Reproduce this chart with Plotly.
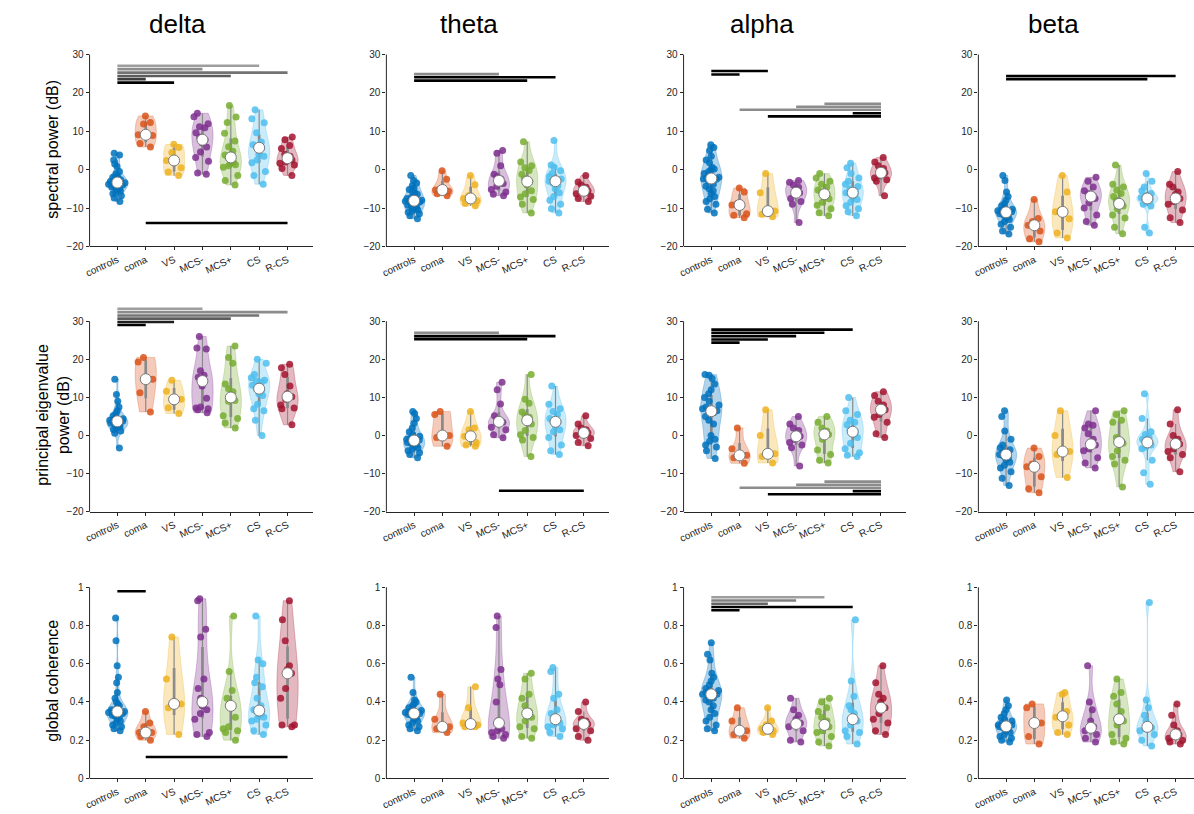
import numpy as np
import plotly.graph_objects as go

groups = ["controls", "coma", "VS", "MCS-", "MCS+", "CS", "R-CS"]
bands = ["delta", "theta", "alpha", "beta"]
measures = ["spectral power (dB)", "principal eigenvalue<br>power (dB)", "global coherence"]
colors = ["#0072BD", "#D95319", "#EDB120", "#7E2F8E", "#77AC30", "#4DBEEE", "#A2142F"]

# ---------------- spectral power (dB) ----------------
spec_delta = [
    [4.3, 3.8, 2.5, 1.5, 0.8, -0.5, -1.0, -1.5, -2.0, -2.3, -2.6, -2.9, -3.1, -3.3, -3.4, -3.6, -3.8, -4.0,
     -4.2, -4.4, -4.6, -4.9, -5.2, -5.5, -5.9, -6.3, -6.8, -7.4, -8.3, -3.0, -2.0, -4.5],
    [14.0, 12.3, 11.9, 9.1, 8.9, 6.8, 5.9],
    [6.6, 5.8, 4.5, 2.4, 0.5, -0.6, -1.5],
    [14.7, 13.8, 12.0, 11.2, 10.9, 9.6, 8.5, 7.8, 7.0, 5.9, 4.6, 3.2, 2.2, -0.9, -1.2],
    [16.7, 13.7, 12.3, 9.5, 7.5, 6.0, 4.8, 3.8, 3.2, 2.0, 1.6, 1.3, 1.0, 0.6, -1.5, -2.8, -4.0],
    [15.6, 13.3, 12.2, 9.6, 7.2, 6.5, 6.0, 5.7, 4.0, 3.5, 2.5, 1.8, -0.5, -1.5, -3.8],
    [8.5, 7.8, 6.3, 5.5, 4.0, 3.5, 3.0, 2.5, 2.0, 1.7, 1.2, 0.3, -1.5],
]
spec_theta = [
    [-1.5, -2.8, -3.5, -4.2, -4.8, -5.2, -5.6, -6.0, -6.4, -6.8, -7.2, -7.5, -7.8, -8.0, -8.1, -8.2, -8.4,
     -8.7, -9.0, -9.3, -9.6, -9.9, -10.2, -10.5, -10.8, -11.1, -11.5, -12.0, -12.8],
    [-0.3, -2.5, -5.0, -5.3, -5.6, -6.3, -6.8],
    [-1.5, -3.9, -6.8, -7.5, -8.1, -8.8, -9.4],
    [5.0, 4.3, 1.0, -1.2, -1.8, -2.4, -2.9, -3.6, -4.3, -5.2, -5.8, -6.4, -6.8],
    [7.3, 2.0, 1.0, 0.5, -0.2, -1.2, -2.3, -3.1, -4.0, -5.5, -6.3, -7.1, -7.8, -9.0, -11.3],
    [7.6, 1.2, 0.6, -0.3, -1.0, -1.8, -2.4, -2.8, -3.0, -3.5, -4.2, -5.0, -6.0, -7.0, -8.0, -9.0, -10.2,
     -11.3, -2.9],
    [-1.5, -3.2, -4.0, -4.6, -5.0, -5.5, -5.8, -6.3, -6.9, -7.5, -8.3],
]
spec_alpha = [
    [6.5, 5.8, 5.0, 3.5, 2.5, 1.8, 0.6, 0.2, 0.0, -0.5, -1.0, -1.5, -2.0, -2.2, -2.4, -2.5, -3.0, -3.8,
     -4.3, -5.0, -5.5, -6.2, -7.0, -7.6, -8.3, -9.0, -10.3, -11.3],
    [-4.8, -5.8, -8.8, -9.2, -11.5, -11.9, -12.5],
    [-1.0, -6.0, -10.8, -11.6, -12.3],
    [-2.8, -3.3, -4.0, -4.6, -5.2, -6.0, -6.5, -7.5, -8.3, -9.0, -13.8],
    [-1.0, -2.2, -3.0, -3.8, -4.5, -5.3, -5.8, -6.4, -7.0, -7.6, -8.5, -9.3, -10.2, -11.2, -12.0],
    [1.7, 0.5, -1.0, -2.2, -3.0, -3.8, -4.4, -5.0, -5.6, -6.0, -6.2, -6.3, -7.0, -7.8, -8.5, -9.4, -10.2,
     -11.0, -12.0],
    [3.2, 2.0, 1.0, 0.3, -0.4, -0.8, -1.5, -2.2, -2.6, -3.0, -6.8],
]
spec_beta = [
    [-1.5, -2.8, -5.8, -7.0, -8.0, -8.8, -9.4, -9.9, -10.3, -10.5, -10.7, -11.0, -11.2, -11.3, -11.5, -11.8,
     -12.2, -12.6, -13.0, -13.5, -14.2, -15.0, -16.0, -16.8],
    [-7.8, -12.7, -13.5, -14.5, -16.0, -18.0, -18.8],
    [-1.5, -5.8, -10.5, -11.0, -12.8, -16.5, -17.8],
    [-2.0, -3.0, -4.5, -5.5, -6.3, -6.8, -7.0, -7.5, -8.6, -10.0, -11.8, -13.5, -14.5],
    [1.2, -3.8, -4.5, -5.3, -6.2, -7.0, -8.0, -8.9, -9.1, -9.5, -10.2, -11.8, -12.6, -15.0, -16.7],
    [-1.0, -3.0, -4.5, -5.5, -6.2, -6.8, -7.0, -7.3, -7.5, -7.6, -7.7, -8.0, -8.4, -9.0, -9.5, -15.0, -16.5],
    [-0.5, -3.8, -4.5, -5.8, -6.5, -7.5, -8.3, -9.0, -10.5, -12.5, -13.8],
]

# ---------------- principal eigenvalue power (dB) ----------------
eig_delta = [
    [14.8, 10.8, 9.0, 7.5, 6.5, 5.8, 5.2, 4.8, 4.4, 4.2, 4.0, 3.8, 3.7, 3.5, 3.2, 3.0, 2.9, 2.6, 2.3, 2.0,
     1.6, 1.2, 0.6, -3.3],
    [20.5, 19.3, 14.8, 11.2, 6.2],
    [14.5, 11.6, 9.5, 7.3, 5.8],
    [26.0, 23.0, 22.7, 17.0, 15.8, 15.3, 14.5, 14.3, 13.0, 9.8, 7.5, 7.2, 7.0, 6.8, 6.0],
    [23.5, 20.5, 19.0, 13.5, 12.3, 11.5, 10.0, 9.2, 9.0, 5.2, 4.5, 3.3, 2.0],
    [20.0, 19.0, 16.0, 15.2, 14.5, 14.3, 14.0, 13.2, 12.3, 12.0, 11.0, 10.5, 8.2, 7.0, 6.5, 4.0, 0.0],
    [18.7, 17.8, 16.0, 13.0, 11.0, 10.2, 9.5, 8.0, 7.2, 7.0, 2.8],
]
eig_theta = [
    [6.3, 5.8, 4.5, 3.2, 2.0, 1.0, 0.3, -0.2, -0.7, -1.0, -1.2, -1.3, -1.5, -1.8, -2.1, -2.5, -2.8, -3.2,
     -3.6, -4.0, -4.5, -5.0, -5.8],
    [6.3, 5.5, 0.0, -0.5, -2.8],
    [6.3, 2.0, 1.5, -0.2, -1.8, -2.5, -2.8],
    [14.0, 12.0, 8.3, 5.2, 4.3, 3.8, 3.6, 3.5, 3.2, 2.2, 1.5, 0.2, -0.6],
    [16.0, 9.5, 8.5, 6.2, 5.3, 4.8, 4.0, 3.0, 1.3, 0.2, -0.5, -1.2, -5.5],
    [13.0, 8.2, 7.0, 6.3, 5.5, 4.5, 3.8, 3.6, 2.5, 1.5, 1.0, -0.5, -2.5, -4.0, -5.0],
    [5.2, 3.0, 2.0, 1.5, 1.0, 0.7, 0.5, 0.0, -0.8, -1.8, -2.7],
]
eig_alpha = [
    [16.0, 15.8, 15.0, 13.5, 12.0, 11.0, 10.0, 9.0, 8.0, 7.5, 6.5, 7.0, 6.3, 6.0, 5.0, 4.0, 3.0, 0.0, -1.0,
     -1.5, -2.5, -3.0, -4.0, -6.0],
    [2.0, -3.5, -5.2, -5.8, -7.3],
    [6.8, 0.0, -4.8, -5.5, -7.2],
    [5.0, 3.0, 2.0, 1.3, 0.5, -0.2, -1.0, -1.8, -2.5, -3.2, -8.0],
    [5.0, 3.5, 2.0, 1.2, 0.5, 0.3, -1.0, -3.8, -5.0, -6.5, -7.2],
    [10.0, 6.5, 5.5, 4.0, 3.5, 2.8, 1.5, 1.0, 0.5, -0.5, -2.0, -3.5, -4.5, -5.2, -5.5],
    [11.5, 10.5, 9.0, 8.0, 7.2, 6.8, 5.5, 4.8, 3.5, 0.5, -0.5],
]
eig_beta = [
    [6.5, 5.0, 1.2, -1.0, -2.5, -3.2, -3.7, -4.2, -4.6, -5.0, -5.3, -5.8, -6.3, -7.0, -7.8, -8.5, -9.5,
     -11.2, -13.1],
    [-3.3, -5.5, -7.5, -8.2, -10.8, -14.0, -15.0],
    [6.5, 0.0, -4.2, -5.0, -11.0],
    [6.5, 3.0, 2.7, 2.0, 0.5, -1.0, -2.3, -2.5, -3.5, -4.0, -5.8, -7.2, -8.5],
    [6.5, 5.5, 4.0, 3.5, -0.5, -1.5, -1.7, -2.0, -4.0, -5.5, -6.5, -7.5, -13.5],
    [11.0, 4.5, 1.0, 0.3, -0.5, -1.0, -1.3, -1.8, -2.2, -2.5, -3.0, -3.5, -6.5, -9.8, -12.8],
    [6.8, 3.0, 0.0, -1.0, -1.5, -2.2, -3.5, -4.2, -5.0, -5.8, -9.5],
]

# ---------------- global coherence ----------------
coh_delta = [
    [0.84, 0.72, 0.59, 0.53, 0.50, 0.45, 0.42, 0.40, 0.39, 0.38, 0.37, 0.36, 0.36, 0.355, 0.35, 0.35, 0.345,
     0.34, 0.34, 0.335, 0.33, 0.325, 0.32, 0.31, 0.30, 0.29, 0.28, 0.27, 0.26, 0.25],
    [0.35, 0.29, 0.27, 0.24, 0.24, 0.22, 0.20],
    [0.74, 0.52, 0.39, 0.37, 0.23],
    [0.94, 0.93, 0.78, 0.74, 0.52, 0.47, 0.42, 0.40, 0.38, 0.36, 0.34, 0.31, 0.24, 0.23, 0.22],
    [0.85, 0.56, 0.46, 0.42, 0.39, 0.38, 0.38, 0.32, 0.27, 0.26, 0.25, 0.24, 0.20],
    [0.85, 0.62, 0.60, 0.53, 0.50, 0.48, 0.42, 0.38, 0.36, 0.35, 0.34, 0.33, 0.32, 0.31, 0.30, 0.28, 0.25, 0.23],
    [0.93, 0.83, 0.72, 0.59, 0.57, 0.55, 0.47, 0.42, 0.28, 0.28, 0.27],
]
coh_theta = [
    [0.53, 0.45, 0.41, 0.40, 0.39, 0.38, 0.37, 0.36, 0.355, 0.35, 0.345, 0.34, 0.34, 0.34, 0.335, 0.33,
     0.32, 0.31, 0.30, 0.29, 0.28, 0.27, 0.26, 0.25],
    [0.44, 0.31, 0.27, 0.26, 0.24],
    [0.48, 0.37, 0.29, 0.28, 0.27, 0.27],
    [0.85, 0.79, 0.57, 0.52, 0.49, 0.40, 0.30, 0.29, 0.27, 0.26, 0.25, 0.24, 0.23, 0.22, 0.21],
    [0.55, 0.52, 0.44, 0.42, 0.38, 0.35, 0.34, 0.32, 0.30, 0.27, 0.26, 0.22, 0.21],
    [0.58, 0.56, 0.44, 0.42, 0.36, 0.34, 0.32, 0.31, 0.30, 0.29, 0.28, 0.27, 0.26, 0.24, 0.22],
    [0.40, 0.35, 0.31, 0.30, 0.29, 0.285, 0.28, 0.26, 0.25, 0.22, 0.20],
]
coh_alpha = [
    [0.71, 0.65, 0.62, 0.55, 0.53, 0.51, 0.49, 0.47, 0.46, 0.46, 0.45, 0.44, 0.44, 0.43, 0.42, 0.41, 0.40,
     0.38, 0.36, 0.34, 0.32, 0.30, 0.28, 0.26, 0.25],
    [0.37, 0.30, 0.25, 0.23, 0.21],
    [0.37, 0.30, 0.28, 0.26, 0.25, 0.24, 0.23],
    [0.42, 0.36, 0.33, 0.31, 0.29, 0.28, 0.27, 0.25, 0.20, 0.19],
    [0.42, 0.40, 0.37, 0.35, 0.32, 0.30, 0.28, 0.27, 0.25, 0.24, 0.22, 0.19, 0.17],
    [0.83, 0.51, 0.43, 0.38, 0.36, 0.34, 0.31, 0.30, 0.28, 0.25, 0.24, 0.22, 0.18],
    [0.59, 0.50, 0.44, 0.42, 0.40, 0.37, 0.34, 0.31, 0.29, 0.25, 0.23],
]
coh_beta = [
    [0.41, 0.38, 0.36, 0.34, 0.32, 0.31, 0.30, 0.29, 0.28, 0.28, 0.275, 0.27, 0.27, 0.265, 0.26, 0.25,
     0.24, 0.23, 0.22, 0.21, 0.20, 0.19],
    [0.39, 0.37, 0.29, 0.22, 0.18],
    [0.45, 0.44, 0.35, 0.33, 0.32, 0.28, 0.24, 0.23],
    [0.59, 0.40, 0.36, 0.30, 0.27, 0.26, 0.25, 0.23, 0.21, 0.19],
    [0.52, 0.45, 0.43, 0.39, 0.35, 0.32, 0.30, 0.28, 0.23, 0.21, 0.19, 0.18],
    [0.92, 0.41, 0.37, 0.33, 0.30, 0.28, 0.27, 0.265, 0.26, 0.25, 0.23, 0.20, 0.17],
    [0.39, 0.33, 0.28, 0.25, 0.24, 0.23, 0.22, 0.21, 0.20, 0.19, 0.18],
]

# ---------------- significance bars: (from group, to group, level, grey shade) ----------------
sig_spec_delta = [("controls", "CS", 27.1, 0.62), ("controls", "MCS-", 26.2, 0.55), ("controls", "R-CS", 25.3, 0.45),
                  ("controls", "MCS+", 24.4, 0.36), ("controls", "coma", 23.6, 0.24), ("controls", "VS", 22.7, 0.0),
                  ("coma", "R-CS", -13.9, 0.0)]
sig_spec_theta = [("controls", "MCS-", 24.9, 0.55), ("controls", "CS", 24.1, 0.0), ("controls", "MCS+", 23.2, 0.0)]
sig_spec_alpha = [("controls", "VS", 25.7, 0.0), ("controls", "coma", 24.8, 0.0),
                  ("MCS+", "R-CS", 17.2, 0.55), ("MCS-", "R-CS", 16.4, 0.55), ("coma", "R-CS", 15.6, 0.55),
                  ("CS", "R-CS", 14.7, 0.0), ("VS", "R-CS", 13.9, 0.0)]
sig_spec_beta = [("controls", "R-CS", 24.4, 0.0), ("controls", "CS", 23.6, 0.0)]
sig_eig_delta = [("controls", "MCS-", 33.3, 0.62), ("controls", "R-CS", 32.4, 0.55), ("controls", "CS", 31.5, 0.45),
                 ("controls", "MCS+", 30.7, 0.36), ("controls", "VS", 29.8, 0.12), ("controls", "coma", 29.0, 0.0)]
sig_eig_theta = [("controls", "MCS-", 27.0, 0.55), ("controls", "CS", 26.1, 0.0), ("controls", "MCS+", 25.3, 0.0),
                 ("MCS-", "R-CS", -14.5, 0.0)]
sig_eig_alpha = [("controls", "CS", 27.8, 0.0), ("controls", "MCS+", 27.0, 0.0), ("controls", "MCS-", 26.1, 0.0),
                 ("controls", "VS", 25.2, 0.0), ("controls", "coma", 24.4, 0.0),
                 ("MCS+", "R-CS", -12.1, 0.55), ("MCS-", "R-CS", -12.9, 0.55), ("coma", "R-CS", -13.7, 0.55),
                 ("CS", "R-CS", -14.6, 0.0), ("VS", "R-CS", -15.4, 0.0)]
sig_eig_beta = []
sig_coh_delta = [("controls", "coma", 0.979, 0.0), ("coma", "R-CS", 0.112, 0.0)]
sig_coh_theta = []
sig_coh_alpha = [("controls", "MCS+", 0.948, 0.62), ("controls", "MCS-", 0.931, 0.5), ("controls", "VS", 0.914, 0.4),
                 ("controls", "CS", 0.897, 0.0), ("controls", "coma", 0.880, 0.0)]
sig_coh_beta = []

panels = [
    [spec_delta, spec_theta, spec_alpha, spec_beta],
    [eig_delta, eig_theta, eig_alpha, eig_beta],
    [coh_delta, coh_theta, coh_alpha, coh_beta],
]
sigs = [
    [sig_spec_delta, sig_spec_theta, sig_spec_alpha, sig_spec_beta],
    [sig_eig_delta, sig_eig_theta, sig_eig_alpha, sig_eig_beta],
    [sig_coh_delta, sig_coh_theta, sig_coh_alpha, sig_coh_beta],
]

# ---------------- layout geometry (pixels) ----------------
W, H = 1194, 814
col_left = [84.0, 382.3, 681.0, 977.3]
col_right = [308.6, 606.3, 905.0, 1194.0]
x_ranges = [[-0.98, 6.9], [-0.98, 6.9], [-0.98, 6.9], [-0.98, 6.65]]
row_top = [49.3, 304.5, 590.0]
row_bot = [244.0, 513.3, 784.0]
y_ranges = [[-20, 30], [-20, 34], [0, 1]]
y_ticks = [[-20, -10, 0, 10, 20, 30], [-20, -10, 0, 10, 20, 30], [0, 0.2, 0.4, 0.6, 0.8, 1]]
y_axis_top = [30, 30, 1]

FONT = "Arial, Liberation Sans, Helvetica, sans-serif"
AX = "#262626"


def rgba(hexc, a):
    h = hexc.lstrip("#")
    return "rgba(%d,%d,%d,%.2f)" % (int(h[0:2], 16), int(h[2:4], 16), int(h[4:6], 16), a)


fig = go.Figure()
layout = dict(
    width=W, height=H, autosize=False,
    margin=dict(l=0, r=0, t=0, b=0, pad=0),
    paper_bgcolor="white", plot_bgcolor="white",
    showlegend=False, violinmode="overlay",
    font=dict(family=FONT, size=10, color=AX),
)
shapes = []
annotations = []

for r in range(3):
    for c in range(4):
        k = r * 4 + c + 1
        xa = "x" if k == 1 else "x%d" % k
        ya = "y" if k == 1 else "y%d" % k
        data = panels[r][c]
        for g, vals, col in zip(groups, data, colors):
            fig.add_trace(go.Violin(
                x=[g] * len(vals), y=vals, name=g, xaxis=xa, yaxis=ya,
                points="all", pointpos=0, jitter=0.85, spanmode="hard",
                scalemode="width", width=0.75,
                fillcolor=rgba(col, 0.30), line=dict(color=rgba(col, 0.35), width=0.8),
                marker=dict(color=col, size=7, opacity=0.85, line=dict(width=0)),
                box=dict(visible=True, width=0.07, fillcolor="#8a8a8a",
                         line=dict(color="#8a8a8a", width=1.2)),
                meanline=dict(visible=False), showlegend=False, hoverinfo="y",
            ))
        meds = [float(np.median(v)) for v in data]
        fig.add_trace(go.Scatter(
            x=groups, y=meds, mode="markers", xaxis=xa, yaxis=ya, showlegend=False,
            marker=dict(size=11, color="white", line=dict(color="#7a7a7a", width=1)),
            hoverinfo="y",
        ))
        for (g0, g1, lvl, shade) in sigs[r][c]:
            gv = int(round(shade * 255))
            shapes.append(dict(type="line", xref=xa, yref=ya, x0=g0, x1=g1, y0=lvl, y1=lvl,
                               line=dict(color="rgb(%d,%d,%d)" % (gv, gv, gv), width=2.6)))

        d0 = 1 - row_bot[r] / H
        d1 = 1 - row_top[r] / H
        xd = [col_left[c] / W, col_right[c] / W]
        layout["xaxis" if k == 1 else "xaxis%d" % k] = dict(
            domain=xd, anchor=ya, range=x_ranges[c], type="category",
            categoryorder="array", categoryarray=groups,
            showline=True, linecolor=AX, linewidth=1, showgrid=False, zeroline=False,
            ticks="outside", ticklen=3, tickcolor=AX, tickangle=-25,
            tickfont=dict(family=FONT, size=10, color=AX),
        )
        layout["yaxis" if k == 1 else "yaxis%d" % k] = dict(
            domain=[d0, d1], anchor=xa, range=y_ranges[r],
            tickvals=y_ticks[r], showline=False, showgrid=False, zeroline=False,
            ticks="outside", ticklen=3, tickcolor=AX,
            tickfont=dict(family=FONT, size=10, color=AX),
        )
        # y axis line (stops at the top tick)
        yr = y_ranges[r]
        ytop = d0 + (y_axis_top[r] - yr[0]) / (yr[1] - yr[0]) * (d1 - d0)
        shapes.append(dict(type="line", xref="paper", yref="paper", x0=xd[0], x1=xd[0], y0=d0, y1=ytop,
                           line=dict(color=AX, width=1)))

# column titles
title_x = [172, 465, 760, 1053]
for b, tx in zip(bands, title_x):
    annotations.append(dict(text=b, x=tx / W, y=1 - 18 / H, xref="paper", yref="paper",
                            showarrow=False, xanchor="center", yanchor="middle",
                            font=dict(family=FONT, size=26, color="black")))
# row labels
label_y = [145, 415, 685]
for m, ly in zip(measures, label_y):
    annotations.append(dict(text=m, x=47 / W, y=1 - ly / H, xref="paper", yref="paper",
                            showarrow=False, xanchor="center", yanchor="middle", textangle=-90,
                            font=dict(family=FONT, size=16, color="black")))

layout["shapes"] = shapes
layout["annotations"] = annotations
fig.update_layout(**layout)
fig.write_html(
    "out.html",
    config={"displayModeBar": False},
    post_script="document.body.style.margin='0';document.body.style.padding='0';"
                "document.body.style.overflow='hidden';",
)
